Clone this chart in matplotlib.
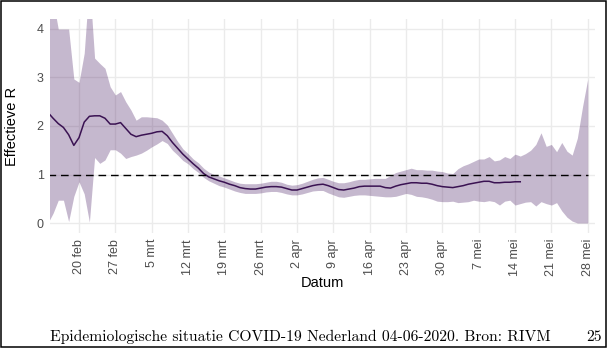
import numpy as np
import pandas as pd
import matplotlib
matplotlib.use('Agg')
import matplotlib.pyplot as plt
from matplotlib.patches import Rectangle

plt.rcParams['font.family'] = ['Liberation Sans', 'DejaVu Sans']

# daily estimates, 14 feb - 28 mei 2020
dates = pd.date_range('2020-02-14', '2020-05-28', freq='D')

upper = [4.6, 4.6, 4.0, 4.0, 4.0, 2.97,
         2.90, 3.5, 5.0, 3.40, 3.29, 3.19, 2.81, 2.64, 2.71, 2.50,
         2.33, 2.12, 2.19, 2.19, 2.18, 2.17, 2.12, 2.02, 1.85, 1.68,
         1.53, 1.43, 1.32, 1.24, 1.13, 1.05, 1.00, 0.97, 0.93, 0.89,
         0.85, 0.82, 0.81, 0.81, 0.81, 0.82, 0.84, 0.86, 0.86, 0.84,
         0.80, 0.78, 0.79, 0.82, 0.86, 0.90, 0.93, 0.94, 0.90, 0.86,
         0.83, 0.83, 0.85, 0.88, 0.90, 0.90, 0.91, 0.92, 0.92, 0.92,
         0.98, 1.04, 1.07, 1.10, 1.13, 1.10, 1.10, 1.09, 1.09, 1.07,
         1.06, 1.03, 1.02, 1.12, 1.18, 1.22, 1.27, 1.32, 1.32, 1.37,
         1.28, 1.30, 1.37, 1.33, 1.42, 1.38, 1.43, 1.50, 1.62, 1.86,
         1.58, 1.62, 1.47, 1.66, 1.48, 1.40, 1.75, 2.40, 2.97]

lower = [0.0, 0.2, 0.47, 0.47, 0.03, 0.55,
         0.85, 0.60, 0.02, 1.35, 1.23, 1.30, 1.51, 1.51, 1.44, 1.33,
         1.37, 1.40, 1.44, 1.50, 1.57, 1.63, 1.70, 1.64, 1.50, 1.40,
         1.29, 1.22, 1.12, 1.04, 0.94, 0.87, 0.82, 0.77, 0.74, 0.70,
         0.66, 0.63, 0.61, 0.61, 0.61, 0.62, 0.64, 0.65, 0.65, 0.63,
         0.60, 0.58, 0.58, 0.60, 0.63, 0.66, 0.67, 0.67, 0.62, 0.58,
         0.54, 0.53, 0.55, 0.57, 0.58, 0.58, 0.57, 0.56, 0.55, 0.54,
         0.54, 0.55, 0.58, 0.61, 0.59, 0.55, 0.54, 0.52, 0.49, 0.45,
         0.44, 0.44, 0.45, 0.42, 0.43, 0.44, 0.47, 0.45, 0.44, 0.46,
         0.44, 0.37, 0.45, 0.47, 0.37, 0.40, 0.43, 0.44, 0.35, 0.44,
         0.40, 0.37, 0.42, 0.25, 0.12, 0.04, 0.0, 0.0, 0.0]

mean_r = [2.28, 2.16, 2.05, 1.97, 1.82, 1.60,
          1.76, 2.08, 2.20, 2.21, 2.21, 2.16, 2.04, 2.04, 2.07, 1.95,
          1.83, 1.78, 1.81, 1.83, 1.85, 1.88, 1.89, 1.80, 1.66, 1.54,
          1.42, 1.32, 1.22, 1.13, 1.02, 0.95, 0.91, 0.87, 0.84, 0.80,
          0.77, 0.73, 0.71, 0.70, 0.70, 0.72, 0.74, 0.75, 0.75, 0.74,
          0.71, 0.68, 0.68, 0.71, 0.74, 0.77, 0.79, 0.80, 0.77, 0.73,
          0.69, 0.68, 0.70, 0.72, 0.75, 0.76, 0.76, 0.76, 0.76, 0.73,
          0.72, 0.76, 0.79, 0.81, 0.83, 0.83, 0.82, 0.82, 0.80, 0.77,
          0.75, 0.74, 0.73, 0.75, 0.77, 0.80, 0.82, 0.84, 0.86, 0.86,
          0.83, 0.83, 0.84, 0.84, 0.85, 0.85]

tick_dates = pd.date_range('2020-02-20', '2020-05-28', freq='7D')
tick_labels = ['20 feb', '27 feb', '5 mrt', '12 mrt', '19 mrt', '26 mrt', '2 apr',
               '9 apr', '16 apr', '23 apr', '30 apr', '7 mei', '14 mei', '21 mei', '28 mei']

fig = plt.figure(figsize=(6.09, 3.49), dpi=100)
ax = fig.add_axes([50/609, (349-232.7)/349, 545/609, 213.4/349])

ax.fill_between(dates, lower, upper, color='#42145f', alpha=0.3, lw=0)
ax.plot(dates[:len(mean_r)], mean_r, color='#3a1252', lw=1.1)
ax.hlines(1, dates[0], dates[-1], colors='black', linestyles=(0, (5.5, 3.5)), lw=1.0)

ax.set_xlim(pd.Timestamp('2020-02-14 09:50'), pd.Timestamp('2020-05-29 09:36'))
ax.set_ylim(-0.2, 4.2)
ax.set_yticks([0, 1, 2, 3, 4])
ax.set_xticks(tick_dates)
ax.set_xticklabels(tick_labels, rotation=90)

ax.grid(color='#ebebeb', lw=1.0)
ax.set_axisbelow(True)
for s in ax.spines.values():
    s.set_visible(False)
ax.tick_params(length=0, labelsize=9, labelcolor='#4d4d4d', pad=4.5)

ax.set_ylabel('Effectieve R', fontsize=10.5)
ax.yaxis.set_label_coords(-0.057, 0.5)
ax.set_xlabel('Datum', fontsize=10.5)
ax.xaxis.set_label_coords(0.5, -0.205)

fig.text(50/609, (349-340.7)/349,
         'Epidemiologische situatie COVID-19 Nederland 04-06-2020. Bron: RIVM',
         family='cmr10', fontsize=11.25, va='baseline')
fig.text(602/609, (349-340.7)/349, '25', family='cmr10', fontsize=11.25,
         va='baseline', ha='right')

fig.patches.append(Rectangle((0.75/609, 2.5/349), 605.25/609, 345.75/349,
                             transform=fig.transFigure, fill=False,
                             edgecolor='black', lw=1.1))

fig.savefig('out.png', dpi=100)
